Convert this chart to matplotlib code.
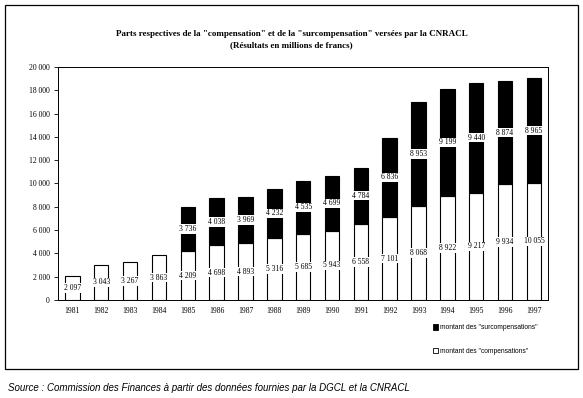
import numpy as np
import matplotlib.pyplot as plt
from matplotlib.patches import Rectangle

# Data (millions de francs)
years = ['1981', '1982', '1983', '1984', '1985', '1986', '1987', '1988', '1989',
         '1990', '1991', '1992', '1993', '1994', '1995', '1996', '1997']
compensations = [2097, 3043, 3267, 3863, 4209, 4698, 4893, 5316, 5685,
                 5943, 6558, 7101, 8068, 8922, 9217, 9934, 10055]
surcompensations = [0, 0, 0, 0, 3736, 4038, 3969, 4232, 4535,
                    4699, 4784, 6836, 8953, 9199, 9440, 8874, 8965]

plt.rcParams['font.family'] = ['Liberation Serif', 'DejaVu Serif']

fig = plt.figure(figsize=(5.83, 3.98), dpi=100)
ax = fig.add_axes([0.0995, 0.246, 0.841, 0.586])

x = np.arange(len(years))
comp = np.array(compensations)
surc = np.array(surcompensations)

ax.bar(x, comp, width=0.5, color='white', edgecolor='black', linewidth=0.8)
ax.bar(x[surc > 0], surc[surc > 0], width=0.5, bottom=comp[surc > 0],
       color='black', edgecolor='black', linewidth=0.8)

def fmt(v):
    return f'{v:,}'.replace(',', ' ')

box = dict(boxstyle='square,pad=0.1', fc='white', ec='none')
for i in range(len(years)):
    ax.text(x[i], comp[i] / 2, fmt(comp[i]), ha='center', va='center',
            fontsize=5.5, bbox=box)
    if surc[i] > 0:
        ax.text(x[i], comp[i] + surc[i] / 2, fmt(surc[i]), ha='center',
                va='center', fontsize=5.5, bbox=box)

ax.set_xlim(-0.5, len(years) - 0.5)
ax.set_ylim(0, 20000)
ax.set_yticks(np.arange(0, 20001, 2000))
ax.set_yticklabels([fmt(v) for v in range(0, 20001, 2000)], fontsize=5.5)
ax.set_xticks(x)
ax.set_xticklabels(years, fontsize=5.5)
ax.tick_params(axis='y', length=3, width=0.6, pad=3)
ax.tick_params(axis='x', length=0, pad=5)
for s in ax.spines.values():
    s.set_linewidth(0.7)

fig.text(0.5, 0.915, 'Parts respectives de la "compensation" et de la "surcompensation" versées par la CNRACL',
         ha='center', va='center', fontsize=6.5, fontweight='bold')
fig.text(0.5, 0.887, '(Résultats en millions de francs)',
         ha='center', va='center', fontsize=6.5, fontweight='bold')

# legend
fig.patches.append(Rectangle((0.742, 0.172), 0.009, 0.013, transform=fig.transFigure,
                             fc='black', ec='black', lw=0.6))
fig.text(0.755, 0.178, 'montant des "surcompensations"', ha='left', va='center',
         fontsize=4.8, family=['Liberation Sans', 'DejaVu Sans'])
fig.patches.append(Rectangle((0.742, 0.112), 0.009, 0.013, transform=fig.transFigure,
                             fc='white', ec='black', lw=0.6))
fig.text(0.755, 0.118, 'montant des "compensations"', ha='left', va='center',
         fontsize=4.8, family=['Liberation Sans', 'DejaVu Sans'])

# outer frame
fig.patches.append(Rectangle((0.009, 0.072), 0.982, 0.915, transform=fig.transFigure,
                             fc='none', ec='black', lw=0.9))

fig.text(0.014, 0.026, 'Source : Commission des Finances à partir des données fournies par la DGCL et la CNRACL',
         ha='left', va='center', fontsize=7, style='italic',
         family=['Liberation Sans', 'DejaVu Sans'])

fig.savefig('out.png', dpi=100)
